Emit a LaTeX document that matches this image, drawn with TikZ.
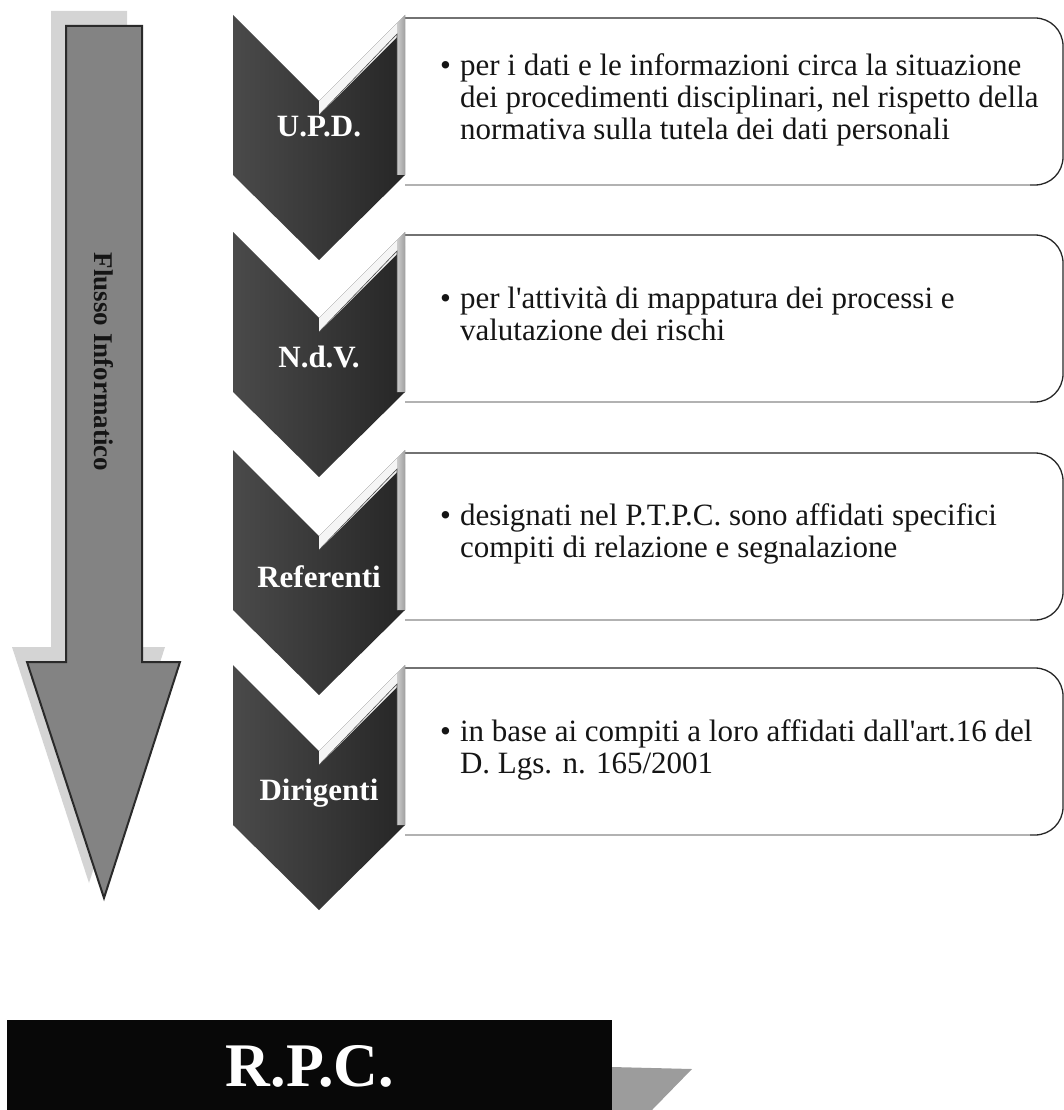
\documentclass[tikz,border=0pt]{standalone}
\usepackage{fontspec}
\setmainfont{Liberation Serif}
\usetikzlibrary{calc}
\definecolor{arrowgray}{HTML}{838383}
\definecolor{arrowline}{HTML}{2A2A2A}
\definecolor{shadowgray}{HTML}{D4D4D4}
\definecolor{chevL}{HTML}{4A4A4A}
\definecolor{chevR}{HTML}{262626}
\definecolor{textblack}{HTML}{151515}
\definecolor{rpcshadow}{HTML}{9C9C9C}
\tikzset{
  bigarrow/.style={fill=arrowgray, draw=arrowline, line width=2pt, line join=miter},
  flowtext/.style={font=\bfseries\fontsize{27}{30}\selectfont, text=textblack, inner sep=0pt},
  chevlabel/.style={font=\bfseries\fontsize{31}{34}\selectfont, text=white, inner sep=0pt},
  bodytext/.style={font=\fontsize{31}{32}\selectfont, text=textblack, inner sep=0pt, align=left},
  boxline/.style={draw=black!85, line width=1.3pt, rounded corners=28pt},
  boxbottom/.style={draw=black!30, line width=1.3pt},
  rpclabel/.style={font=\bfseries\fontsize{62}{68}\selectfont, text=white, inner sep=0pt}
}
\newcommand{\bodyitem}[1]{\begin{tabular}{@{}l@{\hspace{9pt}}l@{}}#1\end{tabular}}
\begin{document}
\begin{tikzpicture}[x=1pt,y=-1pt]
\useasboundingbox (0,0) rectangle (1064,1110);

% ---- big arrow "Flusso Informatico"
\fill[shadowgray] (51,11) -- (127,11) -- (127,647) -- (165,647) -- (89,883) -- (12,647) -- (51,647) -- cycle;
\draw[bigarrow] (66,26) -- (142,26) -- (142,662) -- (180,662) -- (104,898) -- (27,662) -- (66,662) -- cycle;
\node[flowtext, rotate=-90] (flow) at (104,362) {Flusso Informatico};

% ---- text boxes
\foreach \T in {15,232,450,665}{
  \draw[boxline] (405,\T+3) -- (1063,\T+3) -- (1063,\T+170) -- (405,\T+170);
  \draw[boxbottom] (405,\T+170) -- (1030,\T+170);
}

% ---- chevrons
\foreach \T in {15,232,450,665}{
  \shade[left color=chevL, right color=chevR]
    (233,\T) -- (319,\T+86) -- (405,\T) -- (405,\T+160) -- (319,\T+245) -- (233,\T+160) -- cycle;
  \fill[white!92!gray] (319,\T+86) -- (405,\T) -- (405,\T+14) -- (319,\T+100) -- cycle;
  \shade[left color=gray!40, right color=gray!75]
    (397,\T+8) -- (405,\T) -- (405,\T+160) -- (397,\T+160) -- cycle;
  \draw[black!70, line width=0.6pt] (319,\T+100) -- (397,\T+19) -- (397,\T+160);
}
\node[chevlabel] (upd) at (319,127) {U.P.D.};
\node[chevlabel] (ndv) at (319,357) {N.d.V.};
\node[chevlabel] (ref) at (319,577) {Referenti};
\node[chevlabel] (dir) at (319,793) {Dirigenti};

% ---- box texts
\node[bodytext, anchor=west] (t1) at (440,101) {\bodyitem{\textbullet & per i dati e le informazioni circa la situazione\\ & dei procedimenti disciplinari, nel rispetto della\\ & normativa sulla tutela dei dati personali}};
\node[bodytext, anchor=west] (t2) at (440,318) {\bodyitem{\textbullet & per l\textquotesingle attività di mappatura dei processi e\\ & valutazione dei rischi}};
\node[bodytext, anchor=west] (t3) at (440,535) {\bodyitem{\textbullet & designati nel P.T.P.C. sono affidati specifici\\ & compiti di relazione e segnalazione}};
\node[bodytext, anchor=west] (t4) at (440,751) {\bodyitem{\textbullet & in base ai compiti a loro affidati dall\textquotesingle art.16 del\\ & D. Lgs. n. 165/2001}};

% ---- R.P.C. bar
\fill[rpcshadow] (612,1067) -- (692,1069) -- (652,1110) -- (612,1110) -- cycle;
\fill[black!97] (7,1020) rectangle (612,1110);
\node[rpclabel] (rpc) at (310,1066) {R.P.C.};
\end{tikzpicture}
\end{document}
